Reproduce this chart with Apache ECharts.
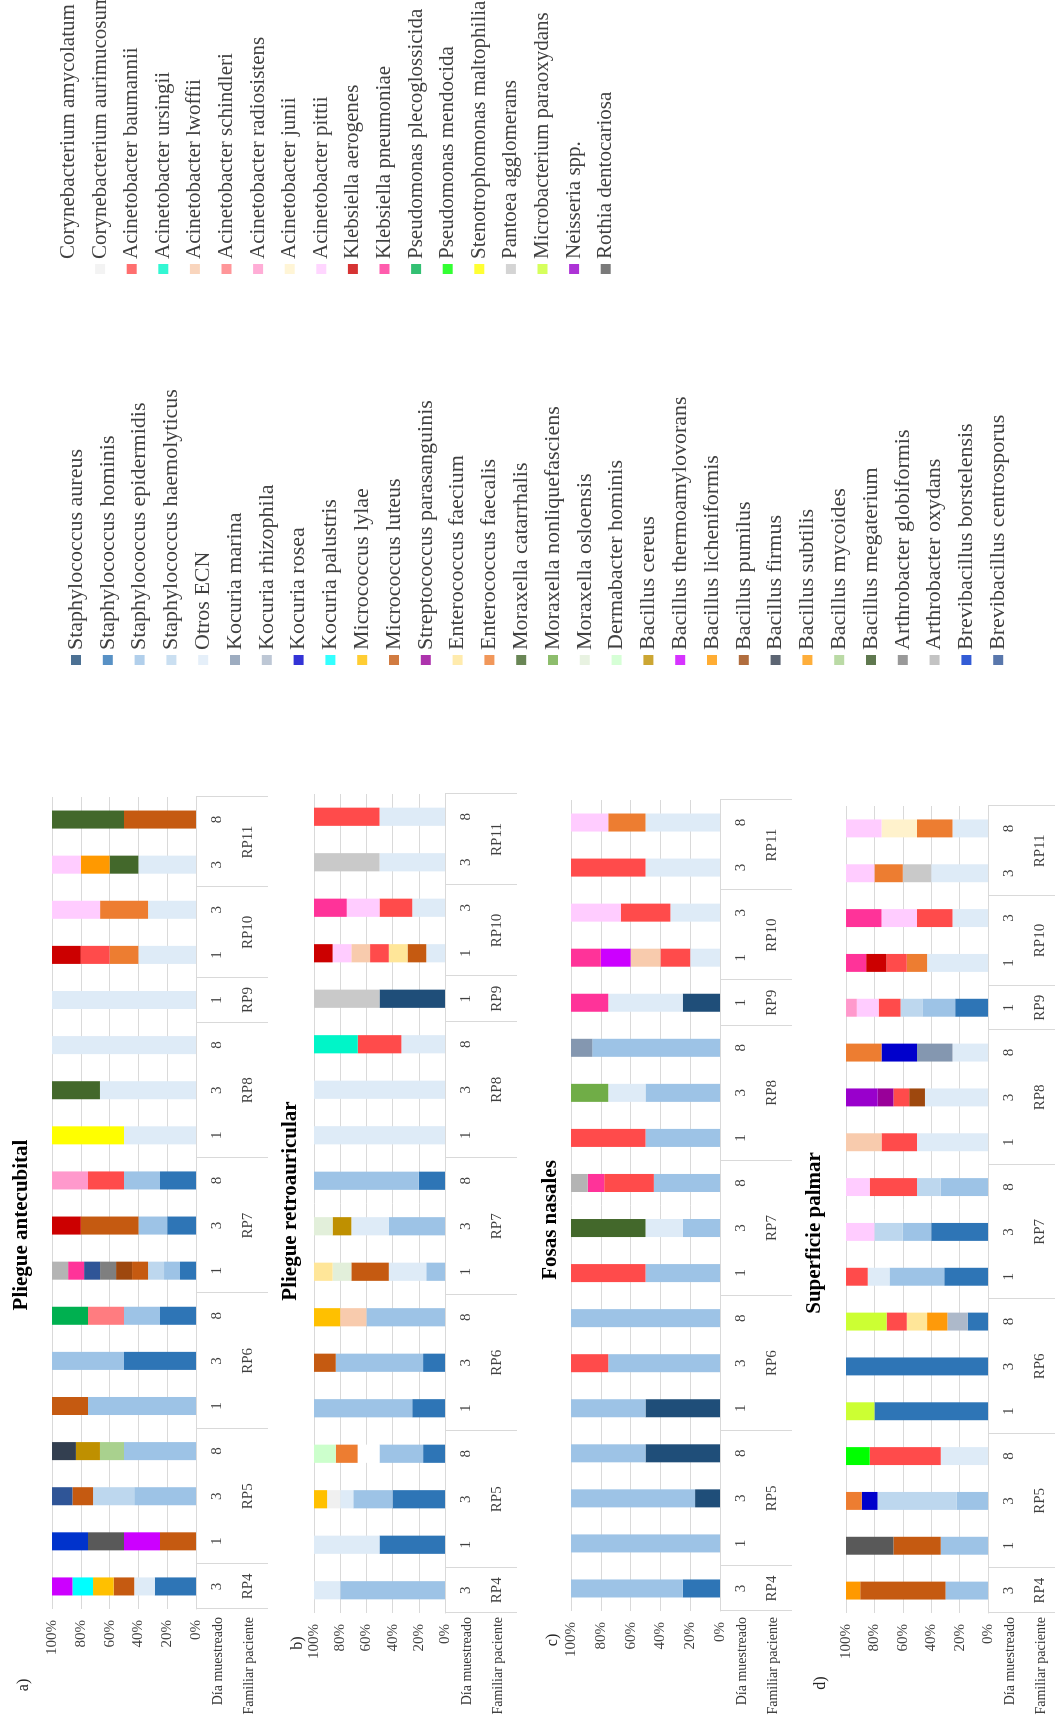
<!DOCTYPE html>
<html>
<head>
<meta charset="utf-8">
<script src="https://cdn.jsdelivr.net/npm/echarts@6.0.0/dist/echarts.min.js"></script>
<style>
  html, body { margin: 0; padding: 0; background: #fff; }
  body { width: 1055px; height: 1719px; overflow: hidden; position: relative; }
  /* the figure is drawn upright and turned a quarter turn, like the scanned original */
  #chart { position: absolute; left: 0; top: 0; width: 1719px; height: 1055px;
    transform-origin: 0 0; transform: translateY(1719px) rotate(-90deg); }
</style>
</head>
<body>
<div id="chart"></div>
<script>
const FONT = 'Liberation Serif'

// legend block 1
const speciesA = ['Staphylococcus aureus', 'Staphylococcus hominis', 'Staphylococcus epidermidis',
  'Staphylococcus haemolyticus', 'Otros ECN', 'Kocuria marina', 'Kocuria rhizophila', 'Kocuria rosea',
  'Kocuria palustris', 'Micrococcus lylae', 'Micrococcus luteus', 'Streptococcus parasanguinis',
  'Enterococcus faecium', 'Enterococcus faecalis', 'Moraxella catarrhalis', 'Moraxella nonliquefasciens',
  'Moraxella osloensis', 'Dermabacter hominis', 'Bacillus cereus', 'Bacillus thermoamylovorans',
  'Bacillus licheniformis', 'Bacillus pumilus', 'Bacillus firmus', 'Bacillus subtilis', 'Bacillus mycoides',
  'Bacillus megaterium', 'Arthrobacter globiformis', 'Arthrobacter oxydans', 'Brevibacillus borstelensis',
  'Brevibacillus centrosporus']
const colorsA = ['#1f4e79', '#2e75b6', '#9dc3e6', '#bdd7ee', '#deebf7', '#8497b0', '#adb9ca', '#0000cc',
  '#00ffff', '#ffc000', '#c55a11', '#990099', '#ffe699', '#ed7d31', '#43682b', '#70ad47', '#e2efda',
  '#ccffcc', '#bf9000', '#cc00ff', '#ff9900', '#9e480e', '#333f50', '#fe9a0a', '#a9d18e', '#375623',
  '#7f7f7f', '#b4b4b4', '#0033cc', '#2f5597']

// legend block 2
const speciesB = ['Corynebacterium amycolatum', 'Corynebacterium aurimucosum', 'Acinetobacter baumannii',
  'Acinetobacter ursingii', 'Acinetobacter lwoffii', 'Acinetobacter schindleri', 'Acinetobacter radiosistens',
  'Acinetobacter junii', 'Acinetobacter pittii', 'Klebsiella aerogenes', 'Klebsiella pneumoniae',
  'Pseudomonas plecoglossicida', 'Pseudomonas mendocida', 'Stenotrophomonas maltophilia',
  'Pantoea agglomerans', 'Microbacterium paraoxydans', 'Neisseria spp.', 'Rothia dentocariosa']
const colorsB = ['#ffffff', '#f0f0f0', '#ff4b4b', '#00f5c8', '#f8cbad', '#ff7c80', '#ff99cc', '#fff2cc',
  '#ffccff', '#cc0000', '#ff3399', '#00b050', '#00ff00', '#ffff00', '#c9c9c9', '#ccff33', '#9900cc', '#595959']

// short codes used in the bar lists below
const codes = {
  SAU: 0, SHO: 1, SEP: 2, SHA: 3, ECN: 4, KMA: 5, KRH: 6, KRO: 7, KPA: 8, MLY: 9, MLU: 10, SPA: 11,
  EFM: 12, EFS: 13, MCA: 14, MNO: 15, MOS: 16, DHO: 17, BCE: 18, BTH: 19, BLI: 20, BPU: 21, BFI: 22,
  BSU: 23, BMY: 24, BME: 25, AGL: 26, AOX: 27, BBO: 28, BCN: 29,
  CAM: 30, CAU: 31, ABA: 32, AUR: 33, ALW: 34, ASC: 35, ARA: 36, AJU: 37, API: 38, KAE: 39, KPN: 40,
  PPL: 41, PME: 42, SMA: 43, PAG: 44, MPA: 45, NEI: 46, RDE: 47
}

const days = ['3', '1', '3', '8', '1', '3', '8', '1', '3', '8', '1', '3', '8', '1', '1', '3', '3', '8']
const patients = ['RP4', 'RP5', 'RP6', 'RP7', 'RP8', 'RP9', 'RP10', 'RP11']
const barsPerPatient = [1, 3, 3, 3, 3, 1, 2, 2]
const valueTicks = [0, 20, 40, 60, 80, 100]

// each bar: segments from 0% upwards, [species code, percent]
const antecubital = [
  [['SHO', 28.6], ['ECN', 14.3], ['MLU', 14.3], ['MLY', 14.3], ['KPA', 14.3], ['BTH', 14.2]],
  [['MLU', 25], ['BTH', 25], ['RDE', 25], ['BBO', 25]],
  [['SEP', 42.9], ['SHA', 28.6], ['MLU', 14.3], ['BCN', 14.2]],
  [['SEP', 50], ['BMY', 16.7], ['BCE', 16.7], ['BFI', 16.6]],
  [['SEP', 75], ['MLU', 25]],
  [['SHO', 50], ['SEP', 50]],
  [['SHO', 25], ['SEP', 25], ['ASC', 25], ['PPL', 25]],
  [['SHO', 11.1], ['SEP', 11.1], ['SHA', 11.1], ['MLU', 11.1], ['BPU', 11.1], ['AGL', 11.1], ['BCN', 11.1], ['KPN', 11.1], ['AOX', 11.2]],
  [['SHO', 20], ['SEP', 20], ['MLU', 40], ['KAE', 20]],
  [['SHO', 25], ['SEP', 25], ['ABA', 25], ['ARA', 25]],
  [['ECN', 50], ['SMA', 50]],
  [['ECN', 66.7], ['MCA', 33.3]],
  [['ECN', 100]],
  [['ECN', 100]],
  [['ECN', 40], ['EFS', 20], ['ABA', 20], ['KAE', 20]],
  [['ECN', 33.3], ['EFS', 33.3], ['API', 33.4]],
  [['ECN', 40], ['MCA', 20], ['BLI', 20], ['API', 20]],
  [['MLU', 50], ['MCA', 50]]
]

const retroauricular = [
  [['SEP', 80], ['ECN', 20]],
  [['SHO', 50], ['ECN', 50]],
  [['SHO', 40], ['SEP', 30], ['ECN', 10], ['CAU', 10], ['MLY', 10]],
  [['SHO', 16.7], ['SEP', 33.3], ['CAM', 16.7], ['EFS', 16.7], ['DHO', 16.6]],
  [['SHO', 25], ['SEP', 75]],
  [['SHO', 16.7], ['SEP', 66.7], ['MLU', 16.6]],
  [['SEP', 60], ['ALW', 20], ['MLY', 20]],
  [['SEP', 14.3], ['ECN', 28.6], ['MLU', 28.6], ['MOS', 14.3], ['EFM', 14.2]],
  [['SEP', 42.9], ['ECN', 28.6], ['BCE', 14.3], ['MOS', 14.2]],
  [['SHO', 20], ['SEP', 80]],
  [['ECN', 100]],
  [['ECN', 100]],
  [['ECN', 33.3], ['ABA', 33.3], ['AUR', 33.4]],
  [['SAU', 50], ['PAG', 50]],
  [['ECN', 14.3], ['MLU', 14.3], ['EFM', 14.3], ['ABA', 14.3], ['ALW', 14.3], ['API', 14.3], ['KAE', 14.2]],
  [['ECN', 25], ['ABA', 25], ['API', 25], ['KPN', 25]],
  [['ECN', 50], ['PAG', 50]],
  [['ECN', 50], ['ABA', 50]]
]

const nasales = [
  [['SHO', 25], ['SEP', 75]],
  [['SEP', 100]],
  [['SAU', 16.7], ['SEP', 83.3]],
  [['SAU', 50], ['SEP', 50]],
  [['SAU', 50], ['SEP', 50]],
  [['SEP', 75], ['ABA', 25]],
  [['SEP', 100]],
  [['SEP', 50], ['ABA', 50]],
  [['SEP', 25], ['ECN', 25], ['MCA', 50]],
  [['SEP', 44.4], ['ABA', 33.3], ['KPN', 11.1], ['AOX', 11.2]],
  [['SEP', 50], ['ABA', 50]],
  [['SEP', 50], ['ECN', 25], ['MNO', 25]],
  [['SEP', 85.7], ['KMA', 14.3]],
  [['SAU', 25], ['ECN', 50], ['KPN', 25]],
  [['ECN', 20], ['ABA', 20], ['ALW', 20], ['BTH', 20], ['KPN', 20]],
  [['ECN', 33.3], ['ABA', 33.3], ['API', 33.4]],
  [['ECN', 50], ['ABA', 50]],
  [['ECN', 50], ['EFS', 25], ['API', 25]]
]

const palmar = [
  [['SEP', 30], ['MLU', 60], ['BLI', 10]],
  [['SEP', 33.3], ['MLU', 33.3], ['RDE', 33.4]],
  [['SEP', 22.2], ['SHA', 55.6], ['KRO', 11.1], ['EFS', 11.1]],
  [['ECN', 33.3], ['ABA', 50], ['PME', 16.7]],
  [['SHO', 80], ['MPA', 20]],
  [['SHO', 100]],
  [['SHO', 14.3], ['KRH', 14.3], ['BSU', 14.3], ['EFM', 14.3], ['ABA', 14.2], ['MPA', 28.6]],
  [['SHO', 30.8], ['SEP', 38.5], ['ECN', 15.4], ['ABA', 15.3]],
  [['SHO', 40], ['SEP', 20], ['SHA', 20], ['API', 20]],
  [['SEP', 33.3], ['SHA', 16.7], ['ABA', 33.3], ['API', 16.7]],
  [['ECN', 50], ['ABA', 25], ['ALW', 25]],
  [['ECN', 44.4], ['BPU', 11.1], ['ABA', 11.1], ['SPA', 11.1], ['NEI', 22.3]],
  [['ECN', 25], ['KMA', 25], ['KRO', 25], ['EFS', 25]],
  [['SHO', 23.1], ['SEP', 23.1], ['SHA', 15.4], ['ABA', 15.4], ['API', 15.4], ['ARA', 7.6]],
  [['ECN', 42.9], ['EFS', 14.3], ['ABA', 14.3], ['KAE', 14.3], ['KPN', 14.2]],
  [['ECN', 25], ['ABA', 25], ['API', 25], ['KPN', 25]],
  [['ECN', 40], ['PAG', 20], ['EFS', 20], ['API', 20]],
  [['ECN', 25], ['EFS', 25], ['AJU', 25], ['API', 25]]
]

const allSpecies = speciesA.concat(speciesB)
const allColors = colorsA.concat(colorsB)

// group boundaries and centres on the patient row, in bar units
const bounds = [0]
barsPerPatient.forEach(n => bounds.push(bounds[bounds.length - 1] + n))
const centres = patients.map((p, i) => (bounds[i] + bounds[i + 1]) / 2)

const panels = [
  { data: antecubital, title: 'Pliegue antecubital', tag: 'a)', grid: { left: 110, top: 52, width: 812, height: 144 }, titleAt: [494, 22], tagAt: [34, 24] },
  { data: retroauricular, title: 'Pliegue retroauricular', tag: 'b)', grid: { left: 106, top: 314, width: 819, height: 131 }, titleAt: [518, 291], tagAt: [76, 298] },
  { data: nasales, title: 'Fosas nasales', tag: 'c)', grid: { left: 108, top: 571, width: 811, height: 149 }, titleAt: [499, 551], tagAt: [79, 553] },
  { data: palmar, title: 'Superficie palmar', tag: 'd)', grid: { left: 106, top: 846, width: 807, height: 142 }, titleAt: [486, 815], tagAt: [36, 821] }
]

const labelStyle = { fontFamily: FONT, fontSize: 15, color: '#404040' }

const grids = [], xAxes = [], yAxes = [], series = [], texts = []

const txt = (x, y, text, font, align, fill) => ({
  type: 'text', x: x, y: y, silent: true,
  style: { text: text, font: font, fill: fill || '#333', align: align, textAlign: align, verticalAlign: 'middle', textVerticalAlign: 'middle' }
})

panels.forEach((p, i) => {
  grids.push(p.grid)
  xAxes.push({
    type: 'category', gridIndex: i, data: days, position: 'bottom',
    axisTick: { show: false },
    axisLine: { lineStyle: { color: '#d9d9d9' } },
    axisLabel: Object.assign({ interval: 0, margin: 14 }, labelStyle)
  })
  xAxes.push({
    type: 'value', gridIndex: i, min: 0, max: days.length, position: 'bottom',
    axisLine: { show: false },
    splitLine: { show: false },
    axisTick: { show: true, length: 72, customValues: bounds, lineStyle: { color: '#d9d9d9' } },
    axisLabel: Object.assign({
      margin: 45, customValues: centres,
      formatter: v => patients[centres.findIndex(c => Math.abs(c - v) < 0.01)] || ''
    }, labelStyle)
  })
  yAxes.push({
    type: 'value', gridIndex: i,
    min: valueTicks[0], max: valueTicks[valueTicks.length - 1], interval: valueTicks[1] - valueTicks[0],
    axisLine: { show: false }, axisTick: { show: false },
    splitLine: { lineStyle: { color: '#d9d9d9' } },
    axisLabel: Object.assign({ formatter: '{value}%', margin: 11 }, labelStyle)
  })

  const depth = Math.max(...p.data.map(b => b.length))
  for (let k = 0; k < depth; k++) {
    series.push({
      type: 'bar', name: 'seg' + i + '_' + k, xAxisIndex: 2 * i, yAxisIndex: i,
      stack: 'panel' + i, barWidth: '40%', silent: true,
      data: p.data.map(bar => bar[k]
        ? { value: bar[k][1], itemStyle: { color: allColors[codes[bar[k][0]]] } }
        : '-')
    })
  }

  const base = p.grid.top + p.grid.height
  texts.push(txt(p.titleAt[0], p.titleAt[1], p.title, 'bold 21px "Liberation Serif"', 'center', '#000'))
  texts.push(txt(p.tagAt[0], p.tagAt[1], p.tag, '16px "Liberation Serif"', 'center', '#222'))
  texts.push(txt(102, base + 22, 'Día muestreado', '14px "Liberation Serif"', 'right'))
  texts.push(txt(102, base + 53, 'Familiar paciente', '14px "Liberation Serif"', 'right'))
})

// empty series so the legends have an entry for every species
allSpecies.forEach((n, j) => {
  series.push({ type: 'scatter', name: n, xAxisIndex: 0, yAxisIndex: 0, data: [], itemStyle: { color: allColors[j] } })
})

const chart = echarts.init(document.getElementById('chart'))
chart.setOption({
  animation: false,
  backgroundColor: '#fff',
  grid: grids,
  xAxis: xAxes,
  yAxis: yAxes,
  legend: [
    { orient: 'vertical', left: 1049, top: 60, icon: 'rect', itemWidth: 10, itemHeight: 10, itemGap: 9.8,
      selectedMode: false, data: speciesA,
      textStyle: { fontFamily: FONT, fontSize: 22, color: '#404040', lineHeight: 22 } },
    { orient: 'vertical', left: 1440, top: 53, icon: 'rect', itemWidth: 10, itemHeight: 10, itemGap: 10.6,
      selectedMode: false, data: speciesB,
      textStyle: { fontFamily: FONT, fontSize: 21, color: '#404040', lineHeight: 21 } }
  ],
  graphic: { elements: texts },
  series: series
})
</script>
</body>
</html>
